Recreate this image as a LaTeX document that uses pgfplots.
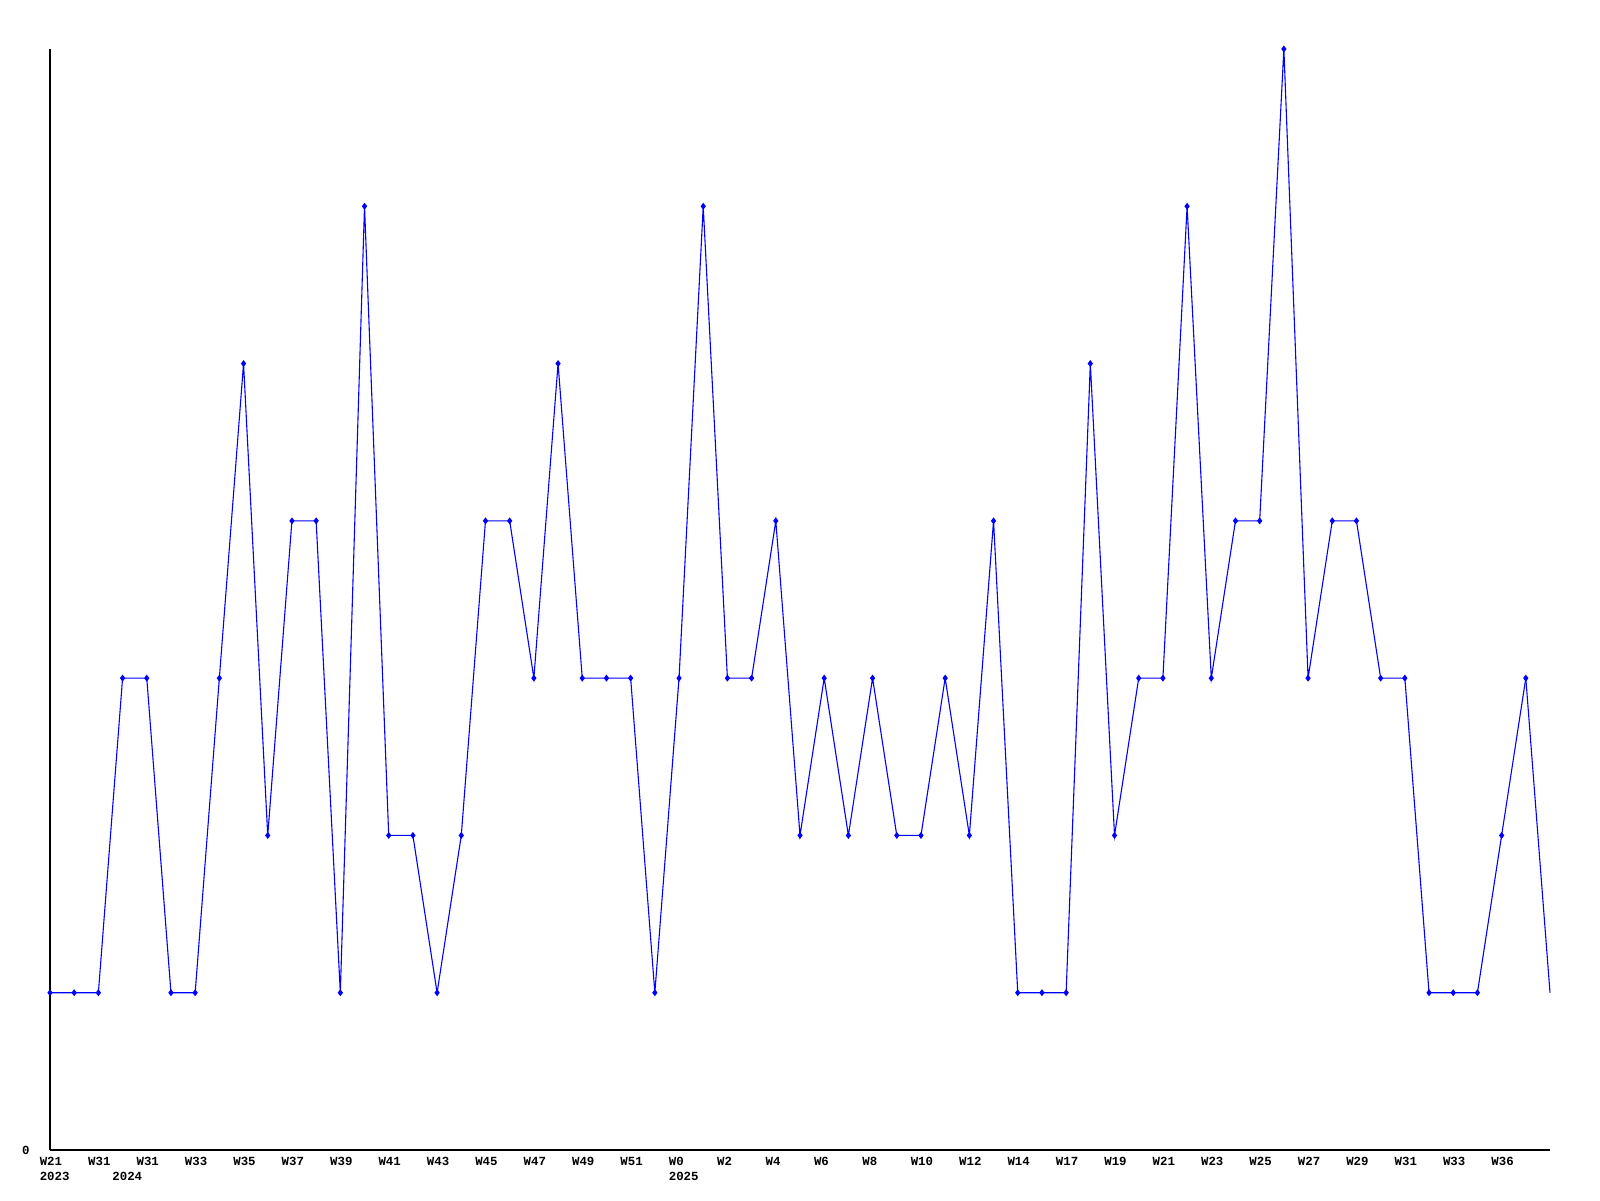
\documentclass[border=0pt]{standalone}
\usepackage{pgfplots}
\pgfplotsset{compat=1.18}
\usepackage{fontspec}
\setmainfont{Liberation Mono}
\definecolor{lineblue}{RGB}{0,0,255}
\begin{document}
\begin{tikzpicture}
\path (0,0) rectangle (800pt,600pt);
\begin{axis}[
  at={(25pt,25pt)}, anchor=origin,
  scale only axis, width=750pt, height=550.5pt,
  xmin=0, xmax=62, ymin=0, ymax=7,
  axis x line*=bottom, axis y line*=left,
  axis line style={black, line width=0.6pt, -},
  xtick={0,2,4,6,8,10,12,14,16,18,20,22,24,26,28,30,32,34,36,38,40,42,44,46,48,50,52,54,56,58,60},
  xticklabels={{W21\\2023},W31,W31,W33,W35,W37,W39,W41,W43,W45,W47,W49,W51,{W0\\2025},W2,W4,W6,W8,W10,W12,W14,W17,W19,W21,W23,W25,W27,W29,W31,W33,W36},
  extra x ticks={3},
  extra x tick labels={{\phantom{W}\\2024}},
  xticklabel style={font=\fontsize{6.2}{7.5}\selectfont\bfseries, align=left, anchor=north west, inner sep=0pt, yshift=-3.5pt, xshift=-5.3pt},
  ytick={0}, yticklabels={0},
  yticklabel style={font=\fontsize{6.2}{7.5}\selectfont\bfseries, anchor=east, inner sep=0pt, xshift=-10pt},
  major tick length=0pt,
  clip=false,
]
\addplot[lineblue, line width=0.55pt, mark=diamond*, mark size=1.3pt, mark options={solid, fill=lineblue}] coordinates {
(0,1)(1,1)(2,1)(3,3)(4,3)(5,1)(6,1)(7,3)(8,5)(9,2)
(10,4)(11,4)(12,1)(13,6)(14,2)(15,2)(16,1)(17,2)(18,4)(19,4)
(20,3)(21,5)(22,3)(23,3)(24,3)(25,1)(26,3)(27,6)(28,3)(29,3)
(30,4)(31,2)(32,3)(33,2)(34,3)(35,2)(36,2)(37,3)(38,2)(39,4)
(40,1)(41,1)(42,1)(43,5)(44,2)(45,3)(46,3)(47,6)(48,3)(49,4)
(50,4)(51,7)(52,3)(53,4)(54,4)(55,3)(56,3)(57,1)(58,1)(59,1)
(60,2)(61,3)
};
\addplot[lineblue, line width=0.55pt, no marks] coordinates {(61,3)(62,1)};
\end{axis}
\end{tikzpicture}
\end{document}
